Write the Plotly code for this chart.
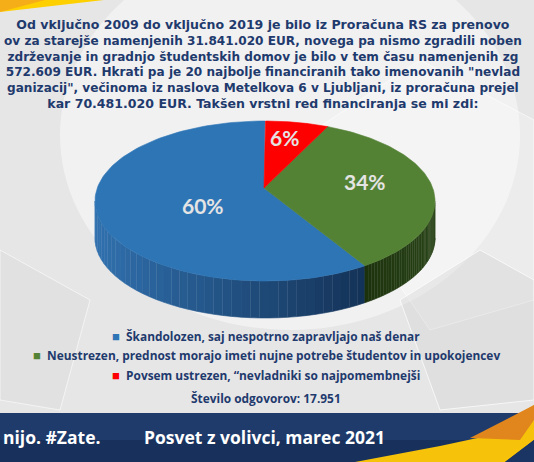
import numpy as np
import plotly.graph_objects as go

# ---------------- data ----------------
categories = [
    "Škandolozen, saj nespotrno zapravljajo naš denar",
    "Neustrezen, prednost morajo imeti nujne potrebe študentov in upokojencev",
    "Povsem ustrezen, “nevladniki so najpomembnejši",
]
values = [60, 34, 6]
pct_labels = ["60%", "34%", "6%"]
respondents_label = "Število odgovorov: 17.951"

title_lines = [
    "Od vključno 2009 do vključno 2019 je bilo iz Proračuna RS za prenovo",
    "ov za starejše namenjenih 31.841.020 EUR, novega pa nismo zgradili noben",
    "zdrževanje in gradnjo študentskih domov je bilo v tem času namenjenih zg",
    "572.609 EUR. Hkrati pa je 20 najbolje financiranih tako imenovanih \"nevlad",
    "ganizacij\", večinoma iz naslova Metelkova 6 v Ljubljani, iz proračuna prejel",
    "kar 70.481.020 EUR. Takšen vrstni red financiranja se mi zdi:",
]
footer_left = "nijo. #Zate."
footer_right = "Posvet z volivci, marec 2021"

# ---------------- styles ----------------
W, H = 534, 462
top_colors = ["#2e75b6", "#548235", "#ff0000"]
side_left = ["#3070ae", "#1c320d", "#9a0000"]
side_right = ["#143257", "#2a4418", "#700000"]
NAVY = "#1f3a6d"
FONT = "Open Sans"
title_sizes = [12.55, 12.1, 12.1, 12.1, 12.1, 12.55]

cx, cy = 265.0, 201.0      # ellipse centre (px)
ax_, ay_ = 264.0, 188.0    # apex of the wedges (px)
rx, ry, depth = 170.0, 80.0, 37.0
label_frac = [0.38, 0.6, 0.64]


def ell(theta_deg):
    t = np.radians(theta_deg)
    return cx + rx * np.sin(t), cy - ry * np.cos(t)


def hexrgb(h):
    h = h.lstrip("#")
    return np.array([int(h[i:i + 2], 16) for i in (0, 2, 4)], float)


def lerp(c1, c2, t):
    c = hexrgb(c1) * (1 - t) + hexrgb(c2) * t
    return "rgb(%d,%d,%d)" % tuple(c.round())


fig = go.Figure()

# angles: counter-clockwise from 12 o'clock in data order
total = float(sum(values))
bounds = []
start = 360.0
for v in values:
    end = start - v / total * 360.0
    bounds.append((end, start))
    start = end

# side faces (visible part: 90..270 deg clockwise from top)
for i, (a, b) in enumerate(bounds):
    lo, hi = max(a, 90.0), min(b, 270.0)
    if hi <= lo:
        continue
    n = 40
    ts = np.linspace(lo, hi, n + 1)
    xs_all = [ell(t)[0] for t in ts]
    xmin, xmax = min(xs_all), max(xs_all)
    for k in range(n):
        seg = np.linspace(ts[k], ts[k + 1], 4)
        pts = [ell(t) for t in seg]
        xs = [p[0] for p in pts] + [p[0] for p in pts[::-1]]
        ys = [p[1] for p in pts] + [p[1] + depth for p in pts[::-1]]
        xm = np.mean([p[0] for p in pts])
        tt = (xm - xmin) / (xmax - xmin) if xmax > xmin else 0
        col = lerp(side_left[i], side_right[i], tt)
        fig.add_trace(go.Scatter(x=xs, y=ys, fill="toself", mode="lines",
                                 fillcolor=col, line=dict(color=col, width=0.6),
                                 hoverinfo="skip", showlegend=False))

# top faces
for i, (a, b) in enumerate(bounds):
    ts = np.linspace(a, b, 120)
    pts = [ell(t) for t in ts]
    xs = [ax_] + [p[0] for p in pts] + [ax_]
    ys = [ay_] + [p[1] for p in pts] + [ay_]
    fig.add_trace(go.Scatter(x=xs, y=ys, fill="toself", mode="lines",
                             fillcolor=top_colors[i],
                             line=dict(color=top_colors[i], width=0.6),
                             hoverinfo="skip", showlegend=False,
                             name=categories[i]))


def px(x):
    return x / W


def py(y):
    return 1 - y / H


ann = []
# percentage labels
for i, (a, b) in enumerate(bounds):
    mid = np.radians((a + b) / 2)
    f = label_frac[i]
    lx = ax_ + f * rx * np.sin(mid)
    ly = ay_ - f * ry * np.cos(mid) + (8 if i == 0 else 0)
    ann.append(dict(x=px(lx), y=py(ly), xref="paper", yref="paper",
                    xanchor="center", yanchor="middle",
                    text="<b>%s</b>" % pct_labels[i], showarrow=False,
                    font=dict(family="Lato", size=21, color="#e4e4e4")))

# title block (one annotation, centred lines; base size sets line spacing)
ann.append(dict(x=px(263), y=py(64), xref="paper", yref="paper",
                xanchor="center", yanchor="middle", align="center",
                text="<br>".join('<span style="font-size:%.2fpx"><b>%s</b></span>' % (s, l)
                                 for s, l in zip(title_sizes, title_lines)),
                showarrow=False,
                font=dict(family="DejaVu Sans", size=12.15, color=NAVY)))

# legend (centred lines)
leg_y = [336, 355, 375]
for i, cat in enumerate(categories):
    ann.append(dict(x=px(266), y=py(leg_y[i]), xref="paper", yref="paper",
                    xanchor="center", yanchor="middle", showarrow=False,
                    text='<span style="color:%s;font-size:13px">■</span>  <b>%s</b>'
                         % (top_colors[i], cat),
                    font=dict(family=FONT, size=11.9, color=NAVY)))
ann.append(dict(x=px(266), y=py(398), xref="paper", yref="paper",
                xanchor="center", yanchor="middle", showarrow=False,
                text="<b>%s</b>" % respondents_label,
                font=dict(family=FONT, size=11.9, color=NAVY)))

# footer
ann.append(dict(x=px(1), y=py(437), xref="paper", yref="paper",
                xanchor="left", yanchor="middle", showarrow=False,
                text="<b>%s</b>" % footer_left,
                font=dict(family=FONT, size=17.5, color="white")))
ann.append(dict(x=px(142), y=py(437), xref="paper", yref="paper",
                xanchor="left", yanchor="middle", showarrow=False,
                text="<b>%s</b>" % footer_right,
                font=dict(family=FONT, size=17.5, color="white")))

shapes = [
    # soft light glow in the background
    dict(type="circle", xref="x", yref="y", x0=60, x1=520, y0=-60, y1=330,
         fillcolor="rgba(255,255,255,0.45)", line=dict(width=0), layer="below"),
    dict(type="path", xref="x", yref="y", layer="below",
         path="M 300 140 L 420 60 L 534 120 L 534 300 L 430 330 Z",
         fillcolor="rgba(255,255,255,0.25)", line=dict(color="rgba(255,255,255,0.6)", width=1)),
    dict(type="path", xref="x", yref="y", layer="below",
         path="M 400 300 L 480 250 L 534 280 L 534 400 L 440 410 Z",
         fillcolor="rgba(210,210,210,0.35)", line=dict(color="rgba(255,255,255,0.7)", width=1)),
    dict(type="path", xref="x", yref="y", layer="below",
         path="M 0 250 L 90 300 L 60 410 L 0 400 Z",
         fillcolor="rgba(215,215,215,0.35)", line=dict(color="rgba(255,255,255,0.6)", width=1)),
    # top-left corner accent
    dict(type="path", xref="x", yref="y", path="M 0 0 L 104 0 L 0 12 Z",
         fillcolor="#ffd000", line=dict(width=0)),
    dict(type="path", xref="x", yref="y", path="M 0 0 L 45 0 L 0 12 Z",
         fillcolor="#f2a51e", line=dict(width=0), opacity=0.8),
    # footer band
    dict(type="rect", xref="x", yref="y", x0=0, x1=W, y0=413, y1=H,
         fillcolor="#1e3b6c", line=dict(width=0)),
    dict(type="rect", xref="x", yref="y", x0=0, x1=W, y0=440, y1=H,
         fillcolor="#132a50", line=dict(width=0), opacity=0.55),
    # bottom-right swoosh
    dict(type="path", xref="x", yref="y",
         path="M 355 462 L 440 446 L 482 437 L 534 405 L 534 440 L 505 462 Z",
         fillcolor="#f6c20a", line=dict(width=0)),
    dict(type="path", xref="x", yref="y",
         path="M 470 438 L 534 405 L 534 420 L 520 440 Z",
         fillcolor="#e0861c", line=dict(width=0)),
    dict(type="path", xref="x", yref="y",
         path="M 505 462 L 534 440 L 534 462 Z",
         fillcolor="#1a3563", line=dict(width=0)),
]

fig.update_layout(
    width=W, height=H, autosize=False,
    margin=dict(l=0, r=0, t=0, b=0),
    paper_bgcolor="#e6e6e7", plot_bgcolor="rgba(0,0,0,0)",
    xaxis=dict(range=[0, W], visible=False, fixedrange=True),
    yaxis=dict(range=[H, 0], visible=False, fixedrange=True),
    showlegend=False,
    annotations=ann, shapes=shapes,
)

fig.write_html("out.html", config={"displayModeBar": False},
               post_script="document.body.style.margin='0';document.body.style.overflow='hidden';")
